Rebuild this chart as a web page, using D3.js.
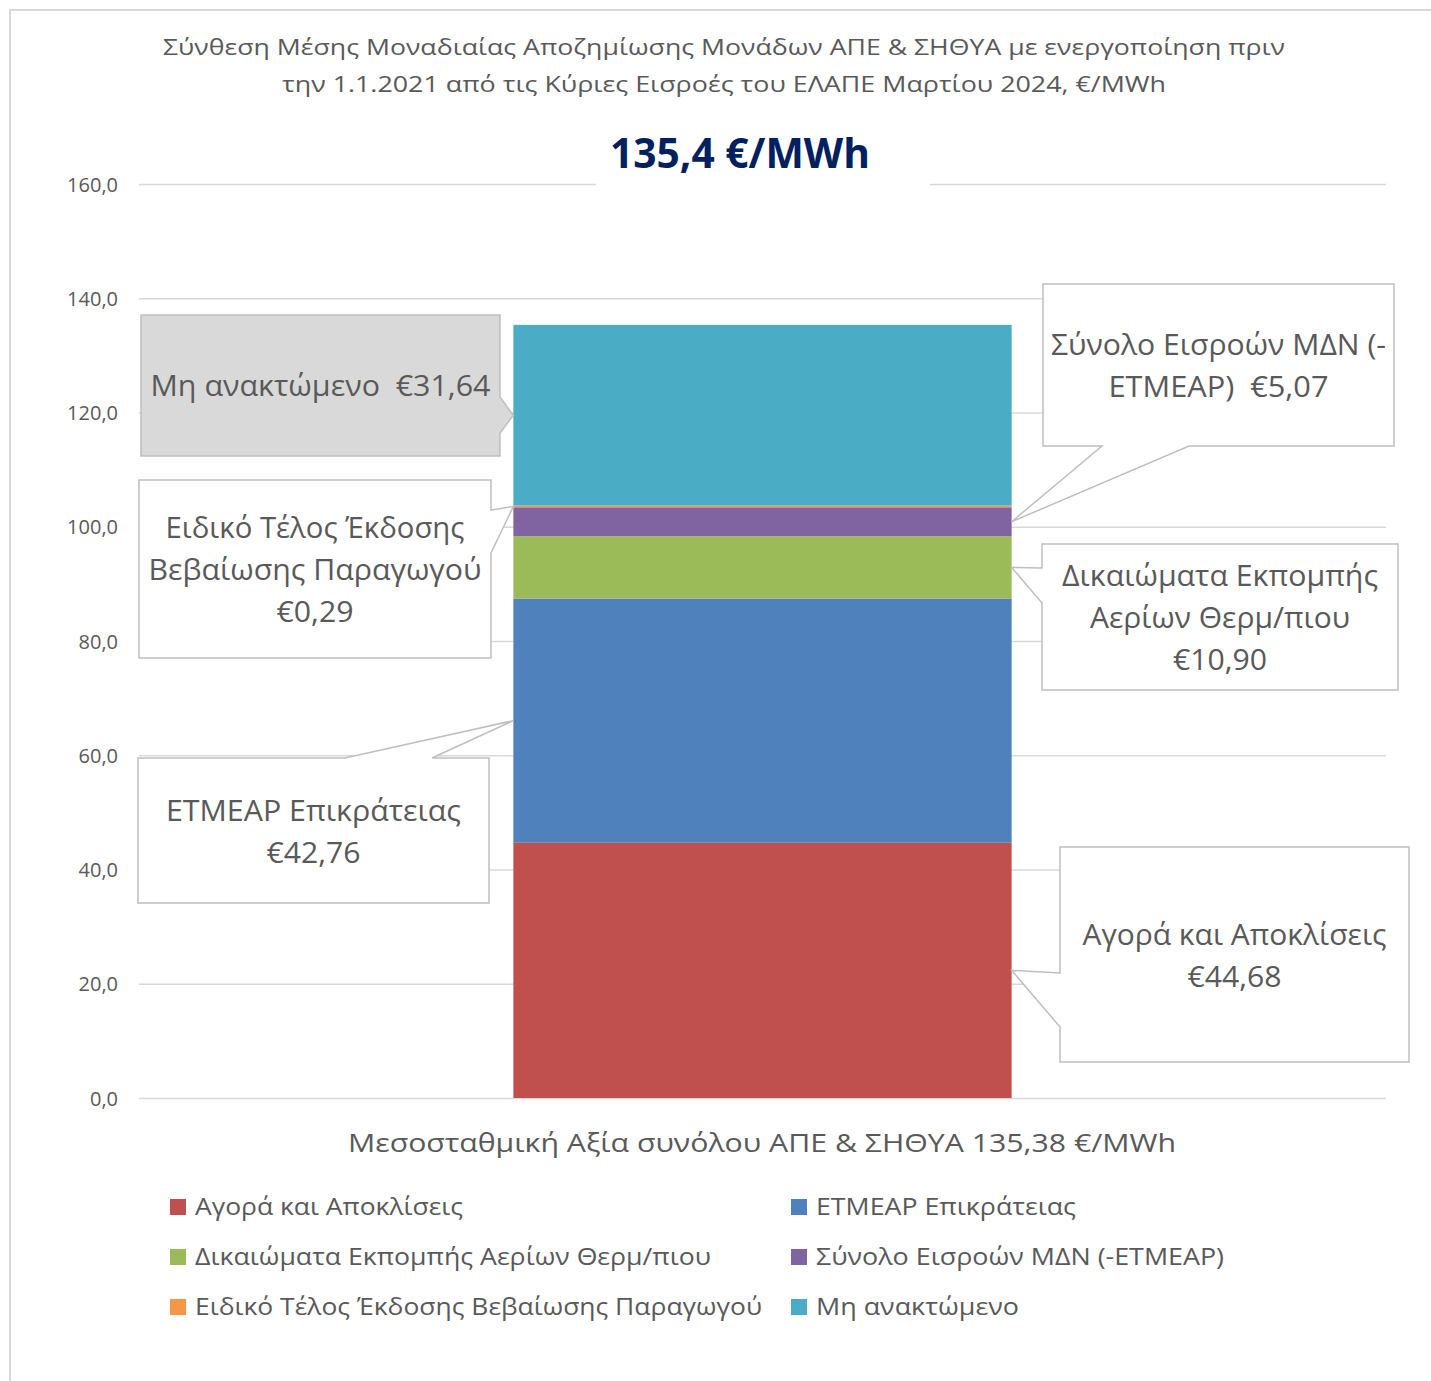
<!DOCTYPE html>
<html><head><meta charset="utf-8">
<script src="https://cdn.jsdelivr.net/npm/d3@7"></script>
<style>body{margin:0;background:#fff} svg{display:block}</style>
</head><body><svg id="c" width="1431" height="1381"></svg>
<script>
// ---- data ----
const categories = ["Αγορά και Αποκλίσεις","ΕΤΜΕΑΡ Επικράτειας","Δικαιώματα Εκπομπής Αερίων Θερμ/πιου","Σύνολο Εισροών ΜΔΝ (-ΕΤΜΕΑΡ)","Ειδικό Τέλος Έκδοσης Βεβαίωσης Παραγωγού","Μη ανακτώμενο"];
const values = [44.68, 42.76, 10.90, 5.07, 0.29, 31.64];
const colors = ["#C0504D","#4F81BD","#9BBB59","#8064A2","#F79646","#4BACC6"];
const yTicks = [0,20,40,60,80,100,120,140,160];
const barCategory = ["Σύνολο"];
const titleLines = ["Σύνθεση Μέσης Μοναδιαίας Αποζημίωσης Μονάδων ΑΠΕ & ΣΗΘΥΑ με ενεργοποίηση πριν","την 1.1.2021 από τις Κύριες Εισροές του ΕΛΑΠΕ Μαρτίου 2024, €/MWh"];
const headline = "135,4 €/MWh";
const xLabel = "Μεσοσταθμική Αξία συνόλου ΑΠΕ & ΣΗΘΥΑ 135,38 €/MWh";
const calloutText = [
  ["Αγορά και Αποκλίσεις"],
  ["ΕΤΜΕΑΡ Επικράτειας"],
  ["Δικαιώματα Εκπομπής","Αερίων Θερμ/πιου"],
  ["Σύνολο Εισροών ΜΔΝ (-","ΕΤΜΕΑΡ)  "],
  ["Ειδικό Τέλος Έκδοσης","Βεβαίωσης Παραγωγού"],
  ["Μη ανακτώμενο  "]
];

// ---- layout ----
const W = 1431, H = 1381;
const plot = {left: 139, right: 1386, top: 184, bottom: 1098};
const FONT = "'Open Sans', 'Noto Sans', sans-serif";
const TXT = "#595959";
const calloutLayout = [
  {box:[1060,847,1409,1062], side:"left",   base:[973,1027], tipSide:"right", widths:[304,94]},
  {box:[138,758,489,903],    side:"top",    base:[345,432],  tipSide:"left",  widths:[295,94]},
  {box:[1042,544,1398,690],  side:"left",   base:[568,603],  tipSide:"right", widths:[316,260,94]},
  {box:[1043,284,1394,446],  side:"bottom", base:[1102,1189],tipSide:"right", widths:[335,220]},
  {box:[139,480,491,658],    side:"right",  base:[510,553],  tipSide:"left",  widths:[299,333,77]},
  {box:[141,315,500,456],    side:"right",  base:[397,433],  tipSide:"left",  widths:[340], fill:"#D9D9D9"}
];
const legendWidths = [268,260,516,408,567,203];

const loc = d3.formatLocale({decimal:",", thousands:".", grouping:[3], currency:["€",""]});
const fmt1 = loc.format(".1f");
const fmt2 = loc.format(".2f");

const svg = d3.select("#c");
svg.append("rect").attr("width",W).attr("height",H).attr("fill","#fff");
// outer frame
svg.append("rect").attr("x",10).attr("y",10).attr("width",W+40).attr("height",H+40)
  .attr("fill","none").attr("stroke","#D9D9D9").attr("stroke-width",2);

const y = d3.scaleLinear().domain([0,160]).range([plot.bottom, plot.top]);
const x = d3.scaleBand().domain(barCategory).range([plot.left, plot.right]).paddingInner(0.429).paddingOuter(0.429);

function addText(g, str, cx, cy, size, opts={}) {
  const t = g.append("text").text(str)
    .attr("x", cx).attr("y", cy + 0.357*size)
    .attr("text-anchor", opts.anchor || "middle")
    .attr("font-family", FONT).attr("font-size", size)
    .attr("font-weight", opts.weight || "normal")
    .attr("fill", opts.fill || TXT);
  if (opts.width) t.attr("textLength", opts.width).attr("lengthAdjust","spacingAndGlyphs");
  return t;
}

// gridlines + ticks
const yAxis = d3.axisLeft(y).tickValues(yTicks).tickSize(-(plot.right-plot.left)).tickFormat(fmt1).tickPadding(21);
const ga = svg.append("g").attr("transform",`translate(${plot.left},0)`).call(yAxis);
ga.select(".domain").remove();
ga.selectAll(".tick line").attr("stroke","#D9D9D9").attr("stroke-width",1.5);
ga.selectAll(".tick text").attr("font-family",FONT).attr("font-size",20).attr("fill",TXT).attr("dy","0.36em");

// title
titleLines.forEach((l,i)=> addText(svg, l, 724, 47 + i*37, 22, {width: [1122,884][i]}));
// headline with white backing
svg.append("rect").attr("x",596).attr("y",128).attr("width",334).attr("height",58).attr("fill","#fff");
addText(svg, headline, 740, 153, 41, {weight:"bold", fill:"#002060", width:260});

// stacked bar
let acc = 0;
const segs = values.map((v,i)=>{ const s={i, v, y0:acc, y1:acc+v}; acc+=v; return s; });
svg.append("g").selectAll("rect").data(segs).join("rect")
  .attr("x", x(barCategory[0])).attr("width", x.bandwidth())
  .attr("y", d=>y(d.y1)).attr("height", d=>y(d.y0)-y(d.y1))
  .attr("fill", d=>colors[d.i]);

// callouts
function calloutPath(L, tip) {
  const [x0,y0,x1,y1] = L.box, b = L.base, s = L.side;
  const p = [[x0,y0]];
  if (s==="top") p.push([b[0],y0], tip, [b[1],y0]);
  p.push([x1,y0]);
  if (s==="right") p.push([x1,b[0]], tip, [x1,b[1]]);
  p.push([x1,y1]);
  if (s==="bottom") p.push([b[1],y1], tip, [b[0],y1]);
  p.push([x0,y1]);
  if (s==="left") p.push([x0,b[1]], tip, [x0,b[0]]);
  return "M" + p.map(q=>q.join(",")).join("L") + "Z";
}
const gc = svg.append("g");
segs.forEach(s=>{
  const L = calloutLayout[s.i];
  const tipX = L.tipSide==="left" ? x(barCategory[0]) : x(barCategory[0]) + x.bandwidth();
  const tip = [tipX, y((s.y0+s.y1)/2)];
  gc.append("path").attr("d", calloutPath(L, tip))
    .attr("fill", L.fill || "#fff").attr("stroke","#BFBFBF").attr("stroke-width",1.5);
  const lines = calloutText[s.i].slice();
  const val = "€" + fmt2(s.v);
  if (lines[lines.length-1].endsWith("  ")) lines[lines.length-1] += val; else lines.push(val);
  const cx = (L.box[0]+L.box[2])/2, cy = (L.box[1]+L.box[3])/2 + (s.i===5?0:1);
  lines.forEach((l,j)=> addText(gc, l.replace(/  /g,"\u00A0 "), cx, cy + (j-(lines.length-1)/2)*42, 29, {width:L.widths[j]}));
});

// x label
addText(svg, xLabel, 762, 1143, 26, {width:828});

// legend
const lg = svg.append("g");
categories.forEach((c,i)=>{
  const col = i%2, row = Math.floor(i/2);
  const lx = [170,791][col], ly = 1207 + row*50;
  lg.append("rect").attr("x",lx).attr("y",ly-8).attr("width",16).attr("height",16).attr("fill",colors[i]);
  addText(lg, c, lx+25, ly, 23.5, {anchor:"start", width:legendWidths[i]});
});
</script></body></html>
